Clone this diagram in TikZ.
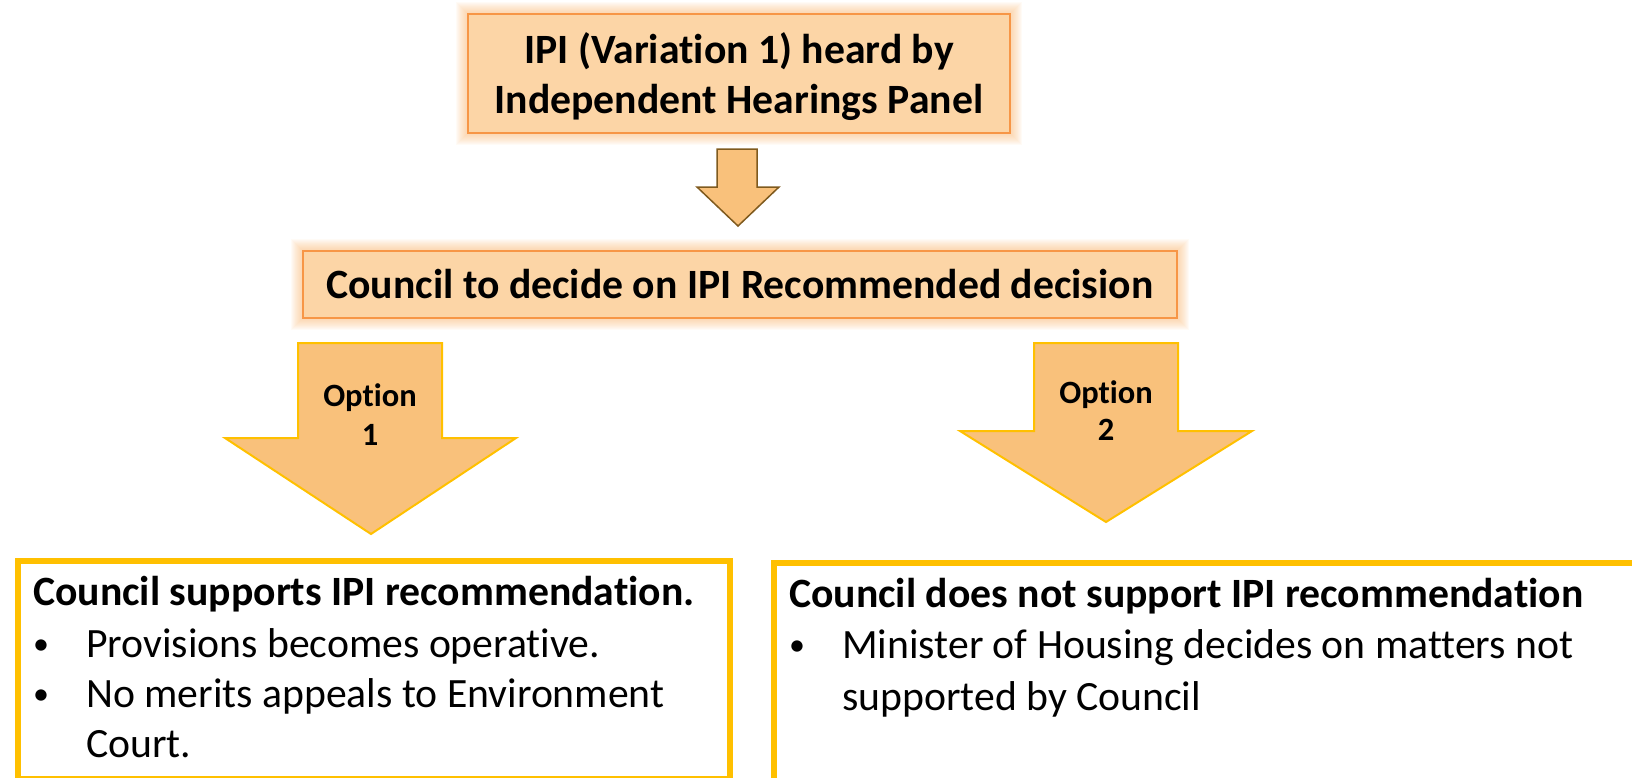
\documentclass[tikz,border=0pt]{standalone}
\usepackage{fontspec}
\setmainfont[Ligatures={NoCommon}]{Carlito}
\usetikzlibrary{calc}
\definecolor{boxfill}{HTML}{FCD5A6}
\definecolor{boxline}{HTML}{F79646}
\definecolor{glowc}{HTML}{F9B36B}
\definecolor{arrfill}{HTML}{F9C17B}
\definecolor{arrline}{HTML}{7F5A1E}
\definecolor{gold}{HTML}{FFC000}
\newcommand\myglow[4]{\foreach \r in {1,...,12}{\fill[glowc,opacity=0.06] (#1-\r,#2-\r) rectangle (#3+\r,#4+\r);}}
\begin{document}
\begin{tikzpicture}[x=1pt,y=-1pt,
  hbox/.style={draw=boxline, line width=2pt, fill=boxfill, inner sep=0pt},
  outbox/.style={draw=gold, line width=6pt, inner sep=0pt, anchor=north west},
  bigb/.style={font=\fontsize{41.7}{50}\selectfont\bfseries, inner sep=0pt},
  bigr/.style={font=\fontsize{41.7}{50}\selectfont, inner sep=0pt, anchor=base west},
  bul/.style={font=\fontsize{32}{40}\selectfont, inner sep=0pt, anchor=base west},
  hd/.style={font=\fontsize{41.7}{50}\selectfont\bfseries, inner sep=0pt, anchor=base west},
  opt/.style={font=\fontsize{32.5}{40}\selectfont\bfseries, inner sep=0pt, anchor=base},
  smallarrow/.style={fill=arrfill, draw=arrline, line width=1.5pt, line join=miter},
  optarrow/.style={fill=arrfill, draw=gold, line width=2pt, line join=miter}
]
\useasboundingbox (0,0) rectangle (1632,777);

% top box
\myglow{468}{14}{1010}{133}
\node[hbox, minimum width=542pt, minimum height=119pt] (ipi) at (739,73.5) {};
\node[bigb, anchor=base] (ipit1) at (739,63) {IPI (Variation 1) heard by};
\node[bigb, anchor=base] (ipit2) at (739,113) {Independent Hearings Panel};

% small arrow
\draw[smallarrow] (717,149) -- (757,149) -- (757,187) -- (779,187) -- (738,226) -- (697,187) -- (717,187) -- cycle;

% council box
\myglow{303}{251}{1177}{318}
\node[hbox, minimum width=874pt, minimum height=67pt] (council) at (740,284.5) {};
\node[bigb, anchor=base] (councilt) at (740,298) {Council to decide on IPI Recommended decision};

% option arrows
\draw[optarrow] (298,343) -- (442,343) -- (442,438) -- (516,438) -- (371,534) -- (225,438) -- (298,438) -- cycle;
\node[opt] (o1a) at (370,406) {Option};
\node[opt] (o1b) at (370,445) {1};

\draw[optarrow] (1034,343) -- (1178,343) -- (1178,431) -- (1252,431) -- (1106,522) -- (960,431) -- (1034,431) -- cycle;
\node[opt] (o2a) at (1106,403) {Option};
\node[opt] (o2b) at (1106,440) {2};

% bottom left box
\node[outbox, minimum width=712pt, minimum height=218pt] (lbox) at (15,558) {};
\node[hd] (lhead) at (33,605) {Council supports IPI recommendation.};
\node[bul] (lb1) at (33,654) {•};
\node[bigr] (lt1) at (86,657) {Provisions becomes operative.};
\node[bul] (lb2) at (33,704) {•};
\node[bigr] (lt2) at (86,707) {No merits appeals to Environment};
\node[bigr] (lt3) at (86,757) {Court.};

% bottom right box
\node[outbox, minimum width=880pt, minimum height=220pt] (rbox) at (771,560) {};
\node[hd] (rhead) at (789,607) {Council does not support IPI recommendation};
\node[bul] (rb1) at (789,655) {•};
\node[bigr] (rt1) at (842,658) {Minister of Housing decides on matters not};
\node[bigr] (rt2) at (842,710) {supported by Council};
\end{tikzpicture}
\end{document}
